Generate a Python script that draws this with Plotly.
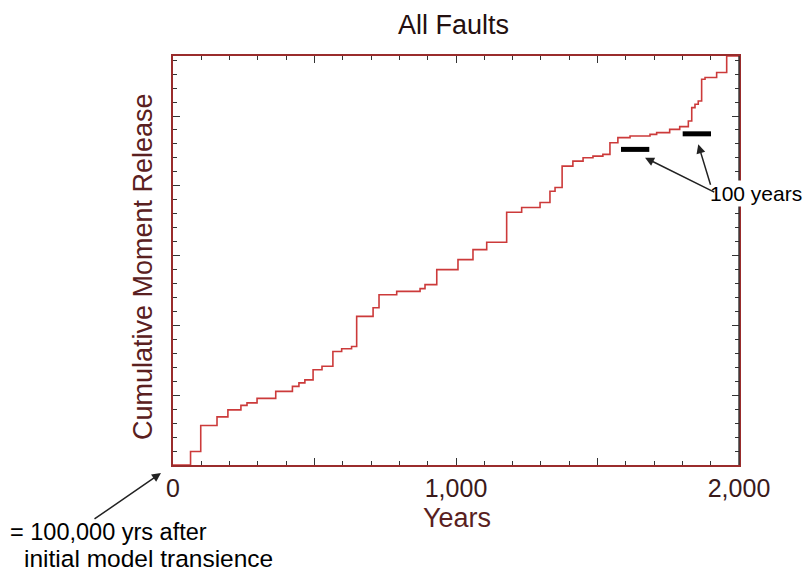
import plotly.graph_objects as go

# Step curve: year at which each step begins, and cumulative moment (arbitrary units) after the step
step_years = [0, 62, 98, 155.5, 194, 240, 261.5, 297, 363, 422, 445, 466, 495, 526.5,
              565, 596, 631, 649, 707, 728, 790.5, 873, 890.5, 932, 1007, 1060, 1108.5,
              1179, 1232, 1297, 1332, 1350, 1375, 1413, 1449, 1484, 1519, 1544, 1572,
              1615, 1685.5, 1709, 1755, 1790.5, 1821, 1833, 1844.5, 1856, 1868, 1880,
              1921, 1956.5, 2000]
step_moment = [0, 0.194, 0.567, 0.689, 0.790, 0.854, 0.890, 0.955, 1.055, 1.127, 1.177, 1.220,
               1.364, 1.414, 1.626, 1.665, 1.698, 2.129, 2.254, 2.440, 2.488, 2.527,
               2.584, 2.799, 2.943, 3.086, 3.191, 3.622, 3.689, 3.761, 3.923, 3.976,
               4.282, 4.354, 4.403, 4.426, 4.450, 4.618, 4.690, 4.713, 4.737, 4.762,
               4.809, 4.848, 4.928, 5.121, 5.168, 5.215, 5.527, 5.551, 5.623, 5.86, 5.86]

# 100-year scale bars
bar1_years = [1583, 1683]
bar1_level = [4.522, 4.522]
bar2_years = [1801, 1901]
bar2_level = [4.745, 4.745]

x_tickvals = [0, 500, 1000, 1500, 2000]
x_ticktext = ["0", "", "1,000", "", "2,000"]
y_tickvals = [0, 1, 2, 3, 4, 5]
Y_MAX = 5.86

RED = "#cc3a3a"
FRAME = "#9a2c2c"
TXT = "#3a1a1a"
FONT = "Liberation Sans, Arial, sans-serif"

fig = go.Figure()
fig.add_trace(go.Scatter(x=step_years, y=step_moment, mode="lines",
                         line=dict(color=RED, width=1.6, shape="hv"),
                         hoverinfo="skip", cliponaxis=False))
fig.add_trace(go.Scatter(x=bar1_years, y=bar1_level, mode="lines",
                         line=dict(color="black", width=5), hoverinfo="skip"))
fig.add_trace(go.Scatter(x=bar2_years, y=bar2_level, mode="lines",
                         line=dict(color="black", width=5), hoverinfo="skip"))

annotations = [
    dict(text="All Faults", x=0.4947, y=1.0758, xref="paper", yref="paper",
         xanchor="center", yanchor="middle",
         showarrow=False, font=dict(size=27, color="#241010", family=FONT)),
    dict(text="Years", x=0.5018, y=-0.13, xref="paper", yref="paper",
         xanchor="center", yanchor="middle",
         showarrow=False, font=dict(size=27, color="#5a1f1f", family=FONT)),
    dict(text="Cumulative Moment Release", x=-0.053, y=0.484, xref="paper", yref="paper",
         xanchor="center", yanchor="middle",
         textangle=-90, showarrow=False, font=dict(size=27, color="#5a2020", family=FONT)),
    dict(text="100 years", x=0.946, y=0.665, xref="paper", yref="paper",
         xanchor="left", yanchor="middle",
         showarrow=False, bgcolor="white", font=dict(size=21, color="black", family=FONT)),
    dict(text="", x=1668, y=4.403, xref="x", yref="y", ax=1918, ay=3.90, axref="x", ayref="y",
         showarrow=True, arrowhead=2, arrowsize=1.2, arrowwidth=1.5, arrowcolor="#222", standoff=0),
    dict(text="", x=1856, y=4.594, xref="x", yref="y", ax=1901, ay=3.995, axref="x", ayref="y",
         showarrow=True, arrowhead=2, arrowsize=1.2, arrowwidth=1.5, arrowcolor="#222", standoff=0),
    dict(text="= 100,000 yrs after", x=-0.2915, y=-0.1638, xref="paper", yref="paper",
         xanchor="left", yanchor="middle",
         showarrow=False, font=dict(size=23.5, color="black", family=FONT)),
    dict(text="initial model transience", x=-0.2668, y=-0.2274, xref="paper", yref="paper",
         xanchor="left", yanchor="middle",
         showarrow=False, font=dict(size=24.5, color="black", family=FONT)),
    dict(text="", x=-0.0212, y=-0.0196, xref="paper", yref="paper", ax=-68, ay=47,
         showarrow=True, arrowhead=2, arrowsize=1.2, arrowwidth=1.5, arrowcolor="#222", standoff=0),
]

# page body has an 8px margin, so the figure is offset by 8px right and down;
# size it to fit inside the window without scrollbars
fig.update_layout(
    width=796, height=563,
    margin=dict(l=165, r=65, t=48, b=106),
    paper_bgcolor="white", plot_bgcolor="white",
    showlegend=False,
    annotations=annotations,
    xaxis=dict(range=[0, 2000], tickvals=x_tickvals, ticktext=x_ticktext,
               ticks="inside", ticklen=7, tickwidth=1.3, tickcolor="#333",
               minor=dict(dtick=100, ticks="inside", ticklen=4, tickcolor="#333"),
               showline=True, linecolor=FRAME, linewidth=1.6, mirror="ticks",
               showgrid=False, zeroline=False, ticklabelstandoff=0,
               tickfont=dict(size=25, color=TXT, family=FONT)),
    yaxis=dict(range=[0, Y_MAX], tickvals=y_tickvals, showticklabels=False,
               ticks="inside", ticklen=7, tickwidth=1.3, tickcolor="#333",
               minor=dict(dtick=0.2, ticks="inside", ticklen=4, tickcolor="#333"),
               showline=True, linecolor=FRAME, linewidth=1.6, mirror="ticks",
               showgrid=False, zeroline=False),
    shapes=[dict(type="line", xref="paper", yref="paper", x0=1, x1=1, y0=0, y1=1,
                 line=dict(color="#333", width=1.4), layer="above")],
)

fig.write_html("out.html")
